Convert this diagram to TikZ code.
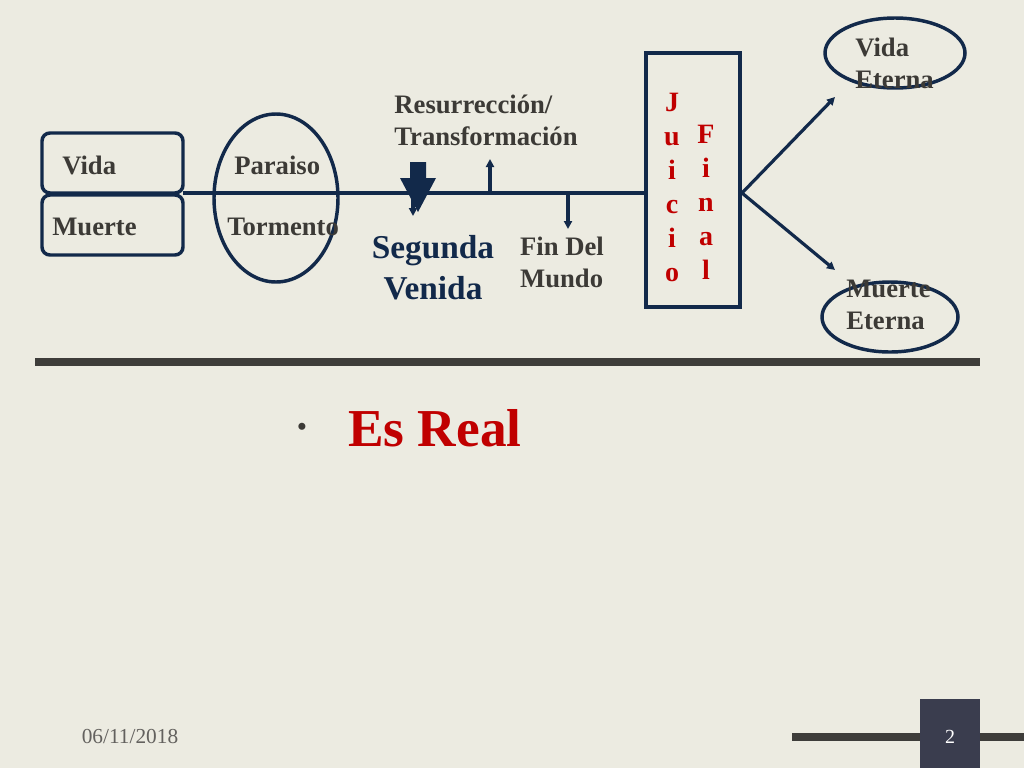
\documentclass[tikz,border=0pt]{standalone}
\usepackage{fontspec}
\setmainfont{Liberation Serif}
\usetikzlibrary{shapes.geometric,shapes.arrows,arrows.meta}
\definecolor{bg}{HTML}{ECEBE1}
\definecolor{navy}{HTML}{12294A}
\definecolor{txt}{HTML}{3C3A36}
\definecolor{rd}{HTML}{C00000}
\definecolor{bar}{HTML}{3E3D3A}
\definecolor{pg}{HTML}{3A3D4E}
\tikzset{
  lbl/.style={font=\bfseries\fontsize{20}{24}\selectfont,text=txt,align=left,inner sep=0pt},
  conn/.style={navy,line width=2.4pt},
  arr/.style={conn,-{Triangle[length=6pt,width=6pt]}},
  rbox/.style={draw=navy,line width=2.6pt,rounded corners=6pt}
}
\begin{document}
\begin{tikzpicture}[x=0.75pt,y=-0.75pt]
\fill[bg] (0,0) rectangle (1024,768);
\useasboundingbox (0,0) rectangle (1024,768);
% boxes
\draw[rbox] (42,133) rectangle (183,193);
\draw[rbox] (42,195) rectangle (183,255);
\node[lbl,anchor=west] (vida) at (62,165) {Vida};
\node[lbl,anchor=west] (muerte) at (52,227) {Muerte};
\node[draw=navy,line width=2.6pt,ellipse,minimum width=124pt*0.75,minimum height=168pt*0.75] (ell) at (276,198) {};
\node[lbl,anchor=west] (par) at (234,165) {Paraiso};
\node[lbl,anchor=west] (tor) at (227,227) {Tormento};
% juicio box
\node[draw=navy,line width=2.6pt,minimum width=94*0.75pt,minimum height=254*0.75pt,inner sep=0pt] (jf) at (693,180) {};
\node[font=\bfseries\fontsize{21}{25.5}\selectfont,text=rd,align=center,inner sep=0pt,anchor=north] (ju) at (672,93) {J\\u\\i\\c\\i\\o};
\node[font=\bfseries\fontsize{21}{25.5}\selectfont,text=rd,align=center,inner sep=0pt,anchor=north] (fi) at (706,125) {F\\i\\n\\a\\l};
% main line
\coordinate (l0) at (183,193);
\draw[conn] (l0) -- (jf.west |- l0);
% big arrow
\fill[navy] (410,162) -- (426,162) -- (426,178) -- (436,178) -- (418,212) -- (400,178) -- (410,178) -- cycle;
\coordinate (s0) at (413,193); \coordinate (s1) at (413,216);
\draw[arr] (s0) -- (s1);
\coordinate (u0) at (490,193); \coordinate (u1) at (490,159);
\draw[arr] (u0) -- (u1);
\coordinate (d0) at (568,193); \coordinate (d1) at (568,229);
\draw[arr] (d0) -- (d1);
\node[lbl] (res) at (486,120) {Resurrección/\\Transformación};
\node[font=\bfseries\fontsize{25}{31}\selectfont,text=navy,align=center,inner sep=0pt] (seg) at (433,268) {Segunda\\Venida};
\node[lbl] (fin) at (562,262) {Fin Del\\Mundo};
% eternal
\node[draw=navy,line width=2.6pt,ellipse,minimum width=140*0.75pt,minimum height=70*0.75pt] (ve) at (895,53) {};
\node[lbl,anchor=west] at (855,63) {Vida\\Eterna};
\node[draw=navy,line width=2.6pt,ellipse,minimum width=136*0.75pt,minimum height=70*0.75pt] (me) at (890,317) {};
\node[lbl,anchor=west] at (846,305) {Muerte\\Eterna};
\coordinate (j0) at (742,193);
\coordinate (ve1) at (835,97); \coordinate (me1) at (835,270);
\draw[arr] (j0) -- (ve1);
\draw[arr] (j0) -- (me1);
% bar
\draw[bar,line width=6pt] (35,362) -- (980,362);
\node[font=\fontsize{22}{24}\selectfont,text=txt] at (302,430) {•};
\node[font=\bfseries\fontsize{40}{44}\selectfont,text=rd,anchor=west,inner sep=0pt] (er) at (348,428) {Es Real};
% footer
\node[font=\fontsize{16}{18}\selectfont,text=txt!80] at (130,736) {06/11/2018};
\draw[bar,line width=6pt] (792,737) -- (1024,737);
\fill[pg] (920,699) rectangle (980,768);
\node[font=\fontsize{15}{17}\selectfont,text=white] at (950,737) {2};
\end{tikzpicture}
\end{document}
